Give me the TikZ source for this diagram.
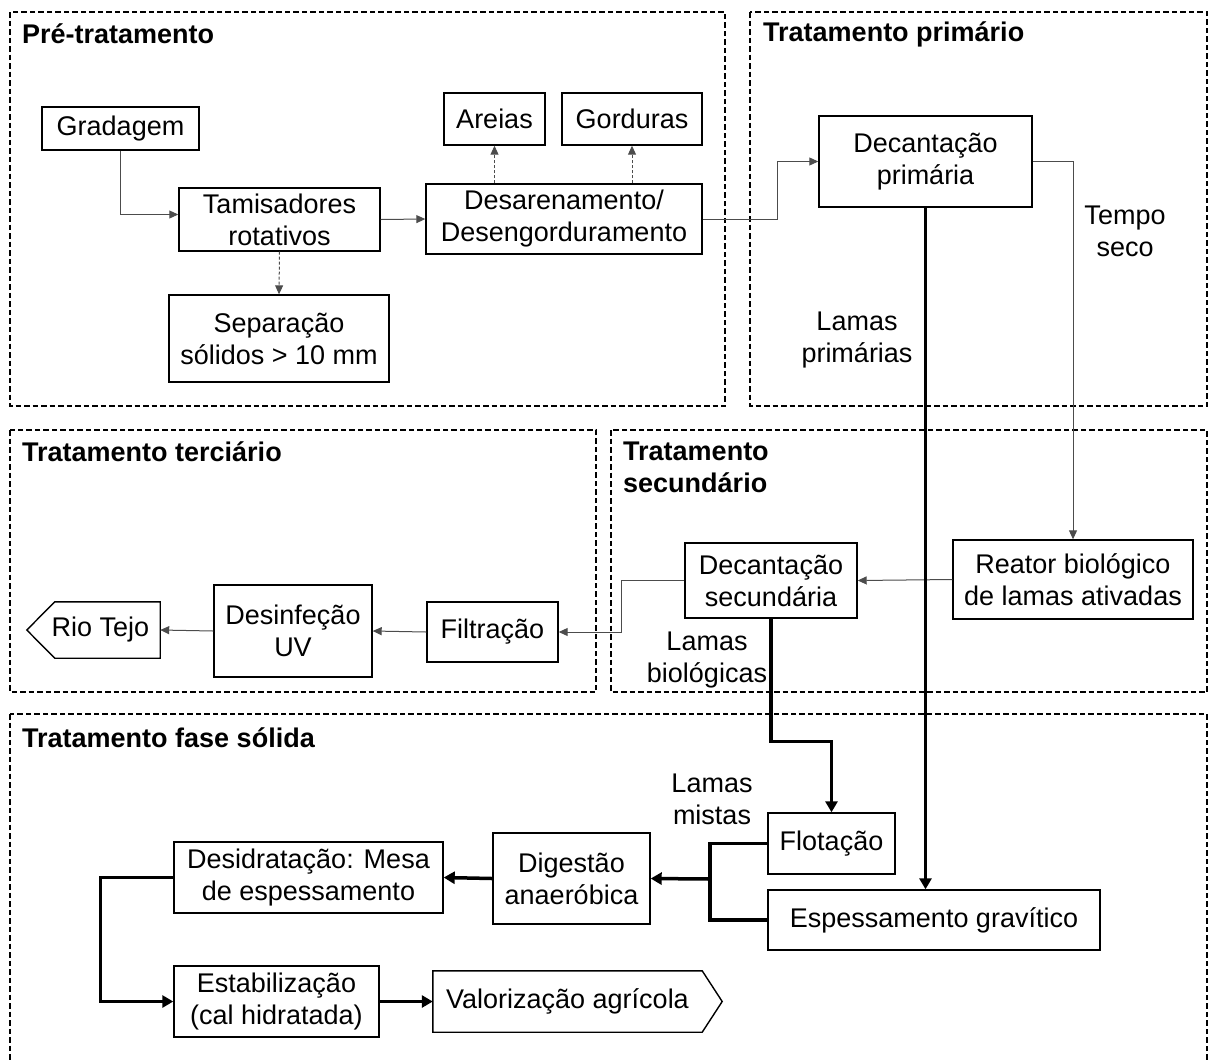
\documentclass[tikz,border=0pt]{standalone}
\usepackage{fontspec}
\setmainfont{Liberation Sans}
\usetikzlibrary{arrows.meta,calc}
\begin{document}
\begin{tikzpicture}[x=1pt,y=-1pt,
  font=\fontsize{27}{32}\selectfont,
  box/.style={draw=black, line width=1.4pt, inner sep=0pt, align=center},
  outline/.style={draw=black, line width=1.4pt, line join=miter},
  group/.style={draw=black, line width=1.2pt, dash pattern=on 5.5pt off 3pt},
  title/.style={anchor=west, font=\fontsize{27}{32}\selectfont\bfseries, align=left, inner sep=0pt},
  flow/.style={draw=black!70, line width=1pt, -{Triangle[length=9pt,width=8pt]}},
  side/.style={draw=black!70, line width=1pt, dash pattern=on 3pt off 2pt, -{Triangle[length=9pt,width=8pt]}},
  sludge/.style={draw=black, line width=3.5pt, -{Triangle[length=11pt,width=12pt]}},
  sludgeline/.style={draw=black, line width=3.5pt},
  note/.style={align=center, inner sep=0pt}
]
\useasboundingbox (0,0) rectangle (1209,1061);

% treatment stages (dashed frames)
\draw[group] (10,12) rectangle (725,406);
\draw[group] (750,12) rectangle (1207,406);
\draw[group] (10,430) rectangle (596,692);
\draw[group] (611,430) rectangle (1207,692);
\draw[group] (10,714) rectangle (1207,1066);

\node[title] (tpre) at (22,34) {Pré-tratamento};
\node[title] (tprim) at (763,34) {Tratamento primário};
\node[title] (tter) at (22,452) {Tratamento terciário};
\node[title] (tsec) at (623,467) {Tratamento\\secundário};
\node[title] (tsol) at (22,738) {Tratamento fase sólida};

% pre-treatment
\node[box, minimum width=157, minimum height=43] (grad) at (120.5,128.5) {Gradagem};
\node[box, minimum width=201, minimum height=63] (tamis) at (279.5,219.5) {Tamisadores\\rotativos};
\node[box, minimum width=220, minimum height=87] (sep) at (279,338.5) {Separação\\sólidos > 10 mm};
\node[box, minimum width=101, minimum height=52] (areias) at (494.5,119) {Areias};
\node[box, minimum width=140, minimum height=52] (gord) at (632,119) {Gorduras};
\node[box, minimum width=276, minimum height=70] (desar) at (564,219) {Desarenamento/\\Desengorduramento};

% primary treatment
\node[box, minimum width=213, minimum height=91] (decp) at (925.5,161.5) {Decantação\\primária};

% secondary treatment
\node[box, minimum width=240, minimum height=79] (reator) at (1073,579.5) {Reator biológico\\de lamas ativadas};
\node[box, minimum width=172, minimum height=75] (decs) at (771,580.5) {Decantação\\secundária};

% tertiary treatment
\node[box, minimum width=131, minimum height=60] (filt) at (492.5,632) {Filtração};
\node[box, minimum width=158, minimum height=92] (desinf) at (293,631) {Desinfeção\\UV};
\node[inner sep=0pt, minimum width=133, minimum height=56] (tejo) at (93.5,630) {\hspace*{14pt}Rio Tejo};
\draw[outline] (tejo.north east) -- ($(tejo.north west)+(28,0)$) -- (tejo.west)
  -- ($(tejo.south west)+(28,0)$) -- (tejo.south east) -- cycle;

% sludge line
\node[box, minimum width=127, minimum height=61] (flot) at (831.5,843.5) {Flotação};
\node[box, minimum width=332, minimum height=60] (esp) at (934,920) {Espessamento gravítico};
\node[box, minimum width=157, minimum height=91] (dig) at (571.5,878.5) {Digestão\\anaeróbica};
\node[box, minimum width=269, minimum height=71] (desid) at (308.5,877.5) {Desidratação: Mesa\\de espessamento};
\node[box, minimum width=205, minimum height=71] (estab) at (276.5,1001.5) {Estabilização\\(cal hidratada)};
\node[inner sep=0pt, minimum width=269, minimum height=61] (valor) at (567.5,1001.5) {Valorização agrícola};
\draw[outline] (valor.north west) -- (valor.north east) -- ($(valor.east)+(20,0)$)
  -- (valor.south east) -- (valor.south west) -- cycle;

% labels
\node[note] (lseco) at (1125,231) {Tempo\\seco};
\node[note] (lprim) at (857,340) {Lamas\\primárias};
\node[note] (lbio) at (707,660) {Lamas\\biológicas};
\node[note] (lmist) at (712,799) {Lamas\\mistas};

% liquid line connectors
\draw[flow] (grad.south) |- ($(tamis.west)+(0,-5)$);
\draw[side] (tamis.south) -- (sep.north);
\draw[flow] (tamis.east) -- (desar.west);
\draw[side] (desar.north -| areias.south) -- (areias.south);
\draw[side] (desar.north -| gord.south) -- (gord.south);
\draw[flow] (desar.east) -- ++(75,0) |- (decp.west);
\draw[flow] (decp.east) -| (reator.north);
\draw[flow] (reator.west) -- (decs.east);
\draw[flow] (decs.west) -- ++(-63,0) |- (filt.east);
\draw[flow] (filt.west) -- (desinf.east);
\draw[flow] (desinf.west) -- (tejo.east);

% sludge connectors
\draw[sludge] (decp.south) -- (esp.north -| decp.south);
\draw[sludge] (decs.south) -- ++(0,123) -| (flot.north);
\coordinate (jn) at (710,879);
\draw[sludgeline] (flot.west) -| (jn) |- (esp.west);
\draw[sludge] (jn) -- (dig.east);
\draw[sludge] (dig.west) -- (desid.east);
\draw[sludge] (desid.west) -- ++(-73,0) |- (estab.west);
\draw[sludge] (estab.east) -- (valor.west);
\end{tikzpicture}
\end{document}
